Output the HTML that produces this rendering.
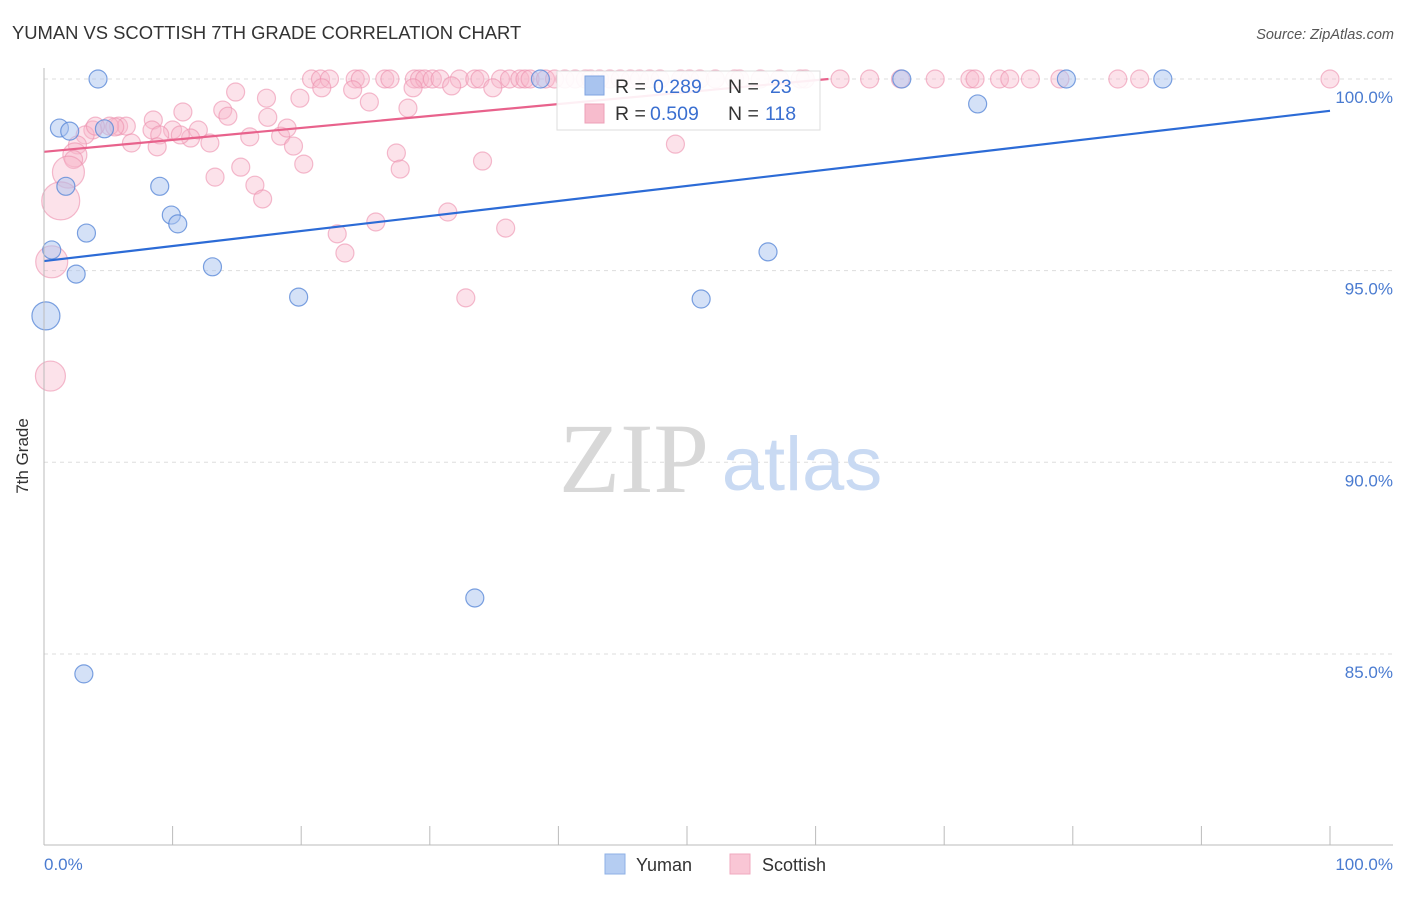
<!DOCTYPE html>
<html><head><meta charset="utf-8"><style>
body{margin:0;background:#fff;font-family:"Liberation Sans",sans-serif}
</style></head><body>
<svg width="1406" height="892" xmlns="http://www.w3.org/2000/svg" style="font-family:'Liberation Sans',sans-serif">
<text x="12" y="39" font-size="18.4" fill="#333">YUMAN VS SCOTTISH 7TH GRADE CORRELATION CHART</text>
<text x="1394" y="39" font-size="14.5" fill="#555" font-style="italic" text-anchor="end">Source: ZipAtlas.com</text>
<g id="grid"></g>
<text x="634" y="492" font-size="100" fill="#d8d8d8" style="font-family:'Liberation Serif',serif" text-anchor="middle">ZIP</text>
<text x="802" y="490" font-size="76" fill="#c9daf3" text-anchor="middle">atlas</text>
<g id="pts"></g>
<g id="lines"></g>
<line x1="44" y1="68" x2="44" y2="845" stroke="#bbb"/>
<line x1="44" y1="845" x2="1393" y2="845" stroke="#bbb"/>
<g id="ticks"></g>
<text x="28" y="456" font-size="17" fill="#333" text-anchor="middle" transform="rotate(-90 28 456)">7th Grade</text>
<text x="44" y="870" font-size="17" fill="#4a7bd0">0.0%</text>
<text x="1393" y="870" font-size="17" fill="#4a7bd0" text-anchor="end">100.0%</text>
<g>
<rect x="557" y="71" width="263" height="59" fill="#fff" fill-opacity="0.9" stroke="#ddd"/>
<rect x="585" y="76" width="19" height="19" fill="#a9c4ef" stroke="#7fa3e0"/>
<rect x="585" y="104" width="19" height="19" fill="#f7bccd" stroke="#eea0b8"/>
<text x="615" y="93" font-size="19.5" fill="#333">R = <tspan x="653" fill="#3a6fd0">0.289</tspan><tspan x="728">N = </tspan><tspan x="770" fill="#3a6fd0">23</tspan></text>
<text x="615" y="120" font-size="19.5" fill="#333">R = <tspan x="650" fill="#3a6fd0">0.509</tspan><tspan x="728">N = </tspan><tspan x="765" fill="#3a6fd0">118</tspan></text>
</g>
<g>
<rect x="605" y="854" width="20" height="20" fill="#b5cdf2" stroke="#8eb0e6"/>
<text x="636" y="871" font-size="18" fill="#333">Yuman</text>
<rect x="730" y="854" width="20" height="20" fill="#f9c6d5" stroke="#f0a9bf"/>
<text x="762" y="871" font-size="18" fill="#333">Scottish</text>
</g>
</svg>
<script>
const yTicks=[100,95,90,85];
const yTickLabels=["100.0%","95.0%","90.0%","85.0%"];
const yumanX=[4.2,1.2,2.0,4.7,1.7,9.0,9.9,10.4,3.3,0.6,2.5,13.1,0.15,19.8,33.5,3.1,38.6,51.1,56.3,66.7,72.6,79.5,87.0];
const yumanY=[100,98.72,98.64,98.7,97.2,97.2,96.45,96.22,95.98,95.54,94.91,95.1,93.82,94.31,86.46,84.48,100,94.26,95.49,100,99.35,100,100];
const yumanR=[9,9,9,9,9,9,9,9,9,9,9,9,14,9,9,9,9,9,9,9,9,9,9];
const topX=[20.8,21.5,22.2,24.2,24.6,26.5,26.9,28.8,29.2,29.6,30.2,30.8,32.3,33.5,33.9,35.5,36.2,37.0,37.4,37.8,39.0,39.7,40.5,41.3,42.1,42.5,43.2,44.0,44.8,45.6,46.3,47.1,47.9,49.5,50.2,51.0,52.2,53.7,54.1,55.7,57.2,58.8,59.2,61.9,64.2,66.6,69.3,72.0,72.4,74.3,75.1,76.7,79.0,83.5,85.2,100];
const scotX=[21.6,24.0,28.7,31.7,34.9,25.3,19.9,17.3,14.9,28.3,13.9,10.8,14.3,8.5,17.4,8.4,5.8,6.4,5.1,3.8,3.2,2.6,2.4,2.3,1.9,1.3,0.6,0.5,10.0,12.0,12.9,11.4,10.6,9.0,6.8,8.8,16.0,18.4,18.9,19.4,20.2,15.3,13.3,16.4,17.0,27.4,27.7,34.1,31.4,25.8,22.8,23.4,35.9,32.8,49.1,4.0,5.5];
const scotY=[99.77,99.72,99.77,99.82,99.77,99.4,99.5,99.5,99.66,99.24,99.19,99.14,99.03,98.93,99.0,98.67,98.77,98.77,98.77,98.67,98.54,98.28,98.02,97.9,97.57,96.82,95.23,92.25,98.67,98.67,98.33,98.46,98.54,98.54,98.33,98.23,98.49,98.51,98.72,98.25,97.78,97.7,97.44,97.23,96.87,98.07,97.65,97.86,96.53,96.27,95.96,95.46,96.11,94.29,98.3,98.77,98.75];
const scotR=[9,9,9,9,9,9,9,9,9,9,9,9,9,9,9,9,9,9,9,9,9,9,12,9,16,19,16,15,9,9,9,9,9,9,9,9,9,9,9,9,9,9,9,9,9,9,9,9,9,9,9,9,9,9,9,9,9];
const yumanLine=[95.25,99.17];
const scotLine=[98.1,100.0];
const scotLineEnd=61;
const NS="http://www.w3.org/2000/svg";
const sx=v=>44+v*12.86;
const sy=v=>79+(100-v)*38.33;
function mk(t,a,p){const e=document.createElementNS(NS,t);for(const k in a)e.setAttribute(k,a[k]);document.getElementById(p).appendChild(e);return e;}
yTicks.forEach((t,i)=>{
 const l=mk('line',{x1:44,x2:1393,y1:sy(t),y2:sy(t),stroke:'#ddd','stroke-dasharray':'4,4'},'grid');
 
 
 const tx=mk('text',{x:1393,y:sy(t)+24,'font-size':17,fill:'#4a7bd0','text-anchor':'end'},'grid');
 tx.textContent=yTickLabels[i];
 
 
});
for(let k=1;k<=10;k++){
 const l=mk('line',{x1:sx(k*10),x2:sx(k*10),y1:826,y2:845,stroke:'#bbb'},'ticks');
 
 
}
const allSX=topX.concat(scotX), allSY=topX.map(()=>100).concat(scotY), allSR=topX.map(()=>9).concat(scotR);
allSX.forEach((x,i)=>{
 const c=mk('circle',{cx:sx(x),cy:sy(allSY[i]),r:allSR[i],fill:'#f7b6ca','fill-opacity':0.4,stroke:'#ec8fae','stroke-opacity':0.6,'stroke-width':1.2},'pts');
 
 
});
yumanX.forEach((x,i)=>{
 const c=mk('circle',{cx:sx(x),cy:sy(yumanY[i]),r:yumanR[i],fill:'#a9c4ef','fill-opacity':0.5,stroke:'#5b8ad8','stroke-opacity':0.8,'stroke-width':1.2},'pts');
 
 
});
const l1=mk('line',{x1:sx(0),y1:sy(yumanLine[0]),x2:sx(100),y2:sy(yumanLine[1]),stroke:'#2c6bd6','stroke-width':2.2},'lines');


const l2=mk('line',{x1:sx(0),y1:sy(scotLine[0]),x2:sx(scotLineEnd),y2:sy(scotLine[1]),stroke:'#e8628c','stroke-width':2.2},'lines');


</script>
</body></html>
